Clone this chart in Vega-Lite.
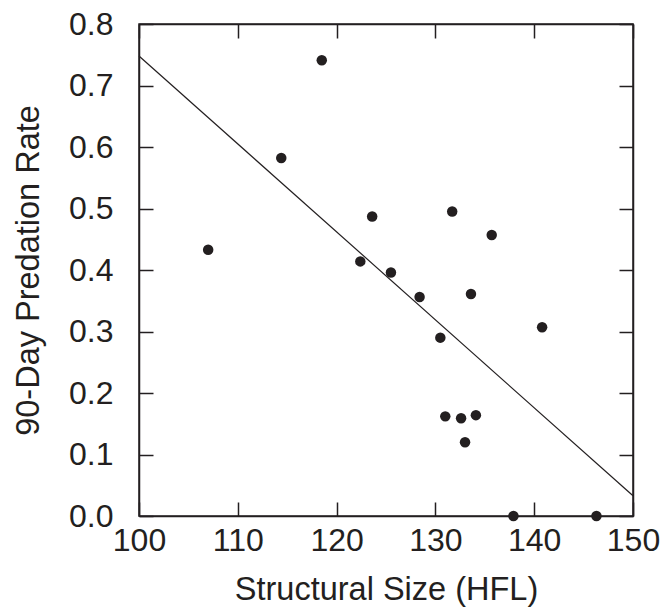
{
  "$schema": "https://vega.github.io/schema/vega-lite/v6.json",
  "width": 494,
  "height": 492,
  "autosize": {"type": "none"},
  "padding": {"left": 139, "top": 24, "right": 35, "bottom": 91},
  "background": "white",
  "config": {
    "view": {"stroke": "#231f20", "strokeWidth": 1.5},
    "axis": {
      "font": "Liberation Sans",
      "labelFont": "Liberation Sans",
      "titleFont": "Liberation Sans",
      "labelFontSize": 32,
      "titleFontSize": 32.5,
      "titleFontWeight": "normal",
      "labelColor": "#231f20",
      "titleColor": "#231f20",
      "domainColor": "#231f20",
      "tickColor": "#231f20",
      "domainWidth": 1.5,
      "tickWidth": 1.5,
      "labelFlush": false,
      "labelOverlap": false,
      "labelBound": false,
      "grid": false
    }
  },
  "layer": [
    {
      "data": {"values": [
        {"hfl": 107.0, "rate": 0.433},
        {"hfl": 114.4, "rate": 0.582},
        {"hfl": 118.5, "rate": 0.741},
        {"hfl": 122.4, "rate": 0.414},
        {"hfl": 123.6, "rate": 0.487},
        {"hfl": 125.5, "rate": 0.396},
        {"hfl": 128.4, "rate": 0.356},
        {"hfl": 130.5, "rate": 0.290},
        {"hfl": 131.0, "rate": 0.162},
        {"hfl": 131.7, "rate": 0.495},
        {"hfl": 132.6, "rate": 0.159},
        {"hfl": 133.0, "rate": 0.120},
        {"hfl": 133.6, "rate": 0.361},
        {"hfl": 134.1, "rate": 0.164},
        {"hfl": 135.7, "rate": 0.457},
        {"hfl": 137.9, "rate": 0.0},
        {"hfl": 140.8, "rate": 0.307},
        {"hfl": 146.3, "rate": 0.0}
      ]},
      "mark": {"type": "point", "filled": true, "size": 110, "color": "#231f20", "opacity": 1},
      "encoding": {
        "x": {"field": "hfl", "type": "quantitative",
              "scale": {"domain": [100, 150], "nice": false, "zero": false},
              "axis": {"orient": "bottom", "values": [100, 110, 120, 130, 140, 150], "tickSize": -14, "labelPadding": 23, "title": "Structural Size (HFL)", "titlePadding": 17}},
        "y": {"field": "rate", "type": "quantitative",
              "scale": {"domain": [0, 0.8], "nice": false},
              "axis": {"orient": "left", "values": [0, 0.1, 0.2, 0.3, 0.4, 0.5, 0.6, 0.7, 0.8], "format": ".1f", "tickSize": -14, "labelPadding": 40, "title": "90-Day Predation Rate", "titlePadding": 23}}
      }
    },
    {
      "data": {"values": [
        {"hfl": 100, "rate": 0.748},
        {"hfl": 150, "rate": 0.033}
      ]},
      "mark": {"type": "line", "color": "#231f20", "strokeWidth": 1.2},
      "encoding": {
        "x": {"field": "hfl", "type": "quantitative",
              "axis": {"orient": "top", "values": [100, 110, 120, 130, 140, 150], "tickSize": -14, "labels": false, "title": null}},
        "y": {"field": "rate", "type": "quantitative",
              "axis": {"orient": "right", "values": [0, 0.1, 0.2, 0.3, 0.4, 0.5, 0.6, 0.7, 0.8], "tickSize": -14, "labels": false, "title": null}}
      }
    }
  ],
  "resolve": {"axis": {"x": "independent", "y": "independent"}}
}
